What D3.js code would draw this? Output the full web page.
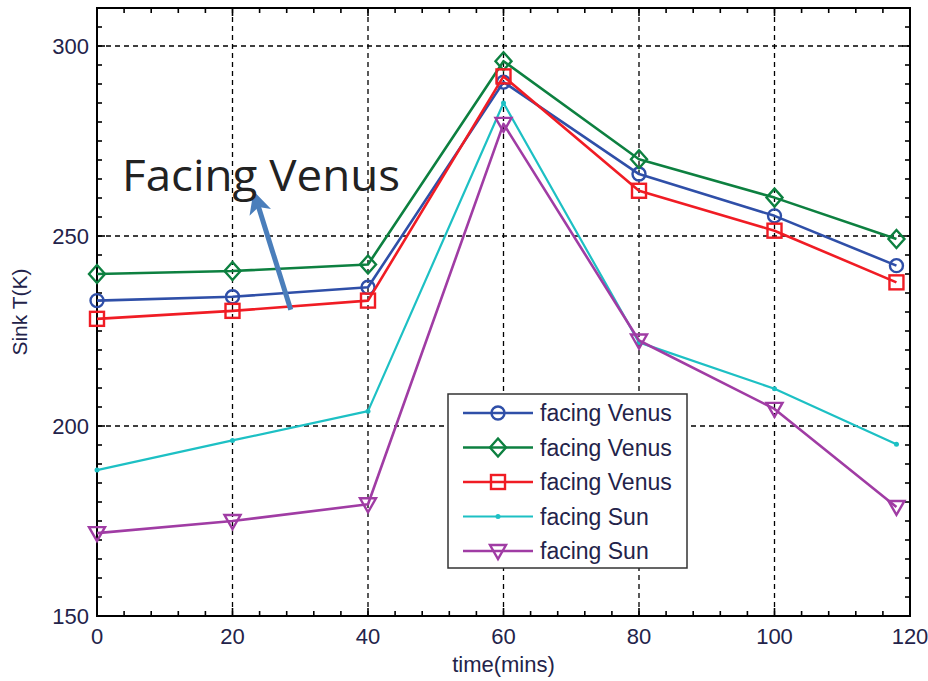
<!DOCTYPE html>
<html lang="en">
<head>
<meta charset="UTF-8">
<title>Sink T</title>
<style>
    body { margin: 0; background: #fff; }
    .grid line { stroke: #000; stroke-width: 1.3px; stroke-dasharray: 5 4; }
    .tick-label { font-family: "Liberation Sans", Arial, sans-serif; font-size: 21px; fill: #23234a; }
    .legend text { font-family: "Liberation Sans", Arial, sans-serif; font-size: 23px; fill: #23234a; }
</style>
</head>
<body>
<script src="https://d3js.org/d3.v7.min.js"></script>
<script>
// data
var times = [0, 20, 40, 60, 80, 100, 118];
var blueVenus  = [233, 234, 236.5, 290.5, 266.3, 255.3, 242.2];
var greenVenus = [240, 240.8, 242.5, 296, 270.2, 260.1, 249.2];
var redVenus   = [228.2, 230.3, 233, 292, 261.9, 251.4, 237.8];
var cyanSun    = [188.4, 196.2, 203.9, 285, 222, 209.8, 195.2];
var purpleSun  = [171.8, 175, 179.4, 279.5, 222.5, 204.5, 178.7];
var seriesNames = ["facing Venus", "facing Venus", "facing Venus", "facing Sun", "facing Sun"];
var xTicks = [0, 20, 40, 60, 80, 100, 120];
var yTicks = [150, 200, 250, 300];

var series = [
    { name: seriesNames[0], values: blueVenus,  color: "#2f4fa8", marker: "circle",   width: 2.6 },
    { name: seriesNames[1], values: greenVenus, color: "#0d8040", marker: "diamond",  width: 2.6 },
    { name: seriesNames[2], values: redVenus,   color: "#f01c24", marker: "square",   width: 2.6 },
    { name: seriesNames[3], values: cyanSun,    color: "#1dc0c4", marker: "dot",      width: 2.2 },
    { name: seriesNames[4], values: purpleSun,  color: "#a03ca4", marker: "triangle", width: 2.6 }
];

var W = 928, H = 681;
var x = d3.scaleLinear().domain([0, 120]).range([97, 910]);
var y = d3.scaleLinear().domain([150, 310]).range([616, 8]);

var svg = d3.select("body").append("svg")
    .attr("width", W).attr("height", H);
svg.append("rect").attr("width", W).attr("height", H).attr("fill", "#fff");

// gridlines
var grid = svg.append("g").attr("class", "grid");
grid.selectAll(".gx").data(xTicks.slice(1, -1)).enter().append("line")
    .attr("x1", d => x(d)).attr("x2", d => x(d))
    .attr("y1", y(310)).attr("y2", y(150));
grid.selectAll(".gy").data(yTicks.slice(1)).enter().append("line")
    .attr("x1", x(0)).attr("x2", x(120))
    .attr("y1", d => y(d)).attr("y2", d => y(d));

// inward ticks on all sides
var minorX = d3.range(0, 121, 4), minorY = d3.range(150, 311, 5);
var ticks = svg.append("g").attr("stroke", "#000").attr("stroke-width", 1.6);
minorX.forEach(function (v) {
    var len = v % 20 === 0 ? 8 : 5;
    ticks.append("line").attr("x1", x(v)).attr("x2", x(v)).attr("y1", y(150)).attr("y2", y(150) - len);
    ticks.append("line").attr("x1", x(v)).attr("x2", x(v)).attr("y1", y(310)).attr("y2", y(310) + len);
});
minorY.forEach(function (v) {
    var len = v % 50 === 0 ? 8 : 5;
    ticks.append("line").attr("x1", x(0)).attr("x2", x(0) + len).attr("y1", y(v)).attr("y2", y(v));
    ticks.append("line").attr("x1", x(120)).attr("x2", x(120) - len).attr("y1", y(v)).attr("y2", y(v));
});

// frame
svg.append("rect")
    .attr("x", x(0)).attr("y", y(310))
    .attr("width", x(120) - x(0)).attr("height", y(150) - y(310))
    .attr("fill", "none").attr("stroke", "#000").attr("stroke-width", 2);

// tick labels
svg.selectAll(".xl").data(xTicks).enter().append("text")
    .attr("class", "tick-label").style("font-size", "22px")
    .attr("x", d => x(d)).attr("y", 644)
    .attr("text-anchor", "middle").text(d => d);
svg.selectAll(".yl").data(yTicks).enter().append("text")
    .attr("class", "tick-label").style("font-size", "22px")
    .attr("x", 89).attr("y", d => y(d) + 8)
    .attr("text-anchor", "end").text(d => d);

// axis titles
svg.append("text").attr("class", "tick-label").style("font-size", "22px")
    .attr("x", x(60)).attr("y", 672).attr("text-anchor", "middle")
    .text("time(mins)");
svg.append("text").attr("class", "tick-label")
    .attr("transform", "translate(27," + y(230) + ") rotate(-90)")
    .attr("text-anchor", "middle").text("Sink T(K)");

function drawMarker(g, type, color) {
    var m;
    if (type === "circle") {
        m = g.append("circle").attr("r", 6.5);
    } else if (type === "diamond") {
        m = g.append("path").attr("d", "M0,-9L8,0L0,9L-8,0Z");
    } else if (type === "square") {
        m = g.append("rect").attr("x", -7).attr("y", -7).attr("width", 14).attr("height", 14);
    } else if (type === "triangle") {
        m = g.append("path").attr("d", "M-8,-6L8,-6L0,8Z");
    } else {
        m = g.append("circle").attr("r", 2.5).attr("fill", color);
        return;
    }
    m.attr("fill", "none").attr("stroke", color).attr("stroke-width", 2.4);
}

var line = d3.line().x((d, i) => x(times[i])).y(d => y(d));

series.forEach(function (s) {
    svg.append("path").datum(s.values)
        .attr("d", line)
        .attr("fill", "none").attr("stroke", s.color)
        .attr("stroke-width", s.width).attr("stroke-linejoin", "round");
    s.values.forEach(function (v, i) {
        var g = svg.append("g").attr("transform", "translate(" + x(times[i]) + "," + y(v) + ")");
        drawMarker(g, s.marker, s.color);
    });
});

// legend
var legend = svg.append("g").attr("class", "legend");
legend.append("rect")
    .attr("x", 448).attr("y", 394).attr("width", 239).attr("height", 174)
    .attr("fill", "#fff").attr("stroke", "#333").attr("stroke-width", 1.5);
series.forEach(function (s, i) {
    var ly = 413 + i * 34.5;
    legend.append("line").attr("x1", 463).attr("x2", 533).attr("y1", ly).attr("y2", ly)
        .attr("stroke", s.color).attr("stroke-width", s.width);
    drawMarker(legend.append("g").attr("transform", "translate(498," + ly + ")"), s.marker, s.color);
    legend.append("text").attr("x", 540).attr("y", ly + 8).text(s.name);
});

// annotation with arrow (positions in data units)
var note = { text: "Facing Venus", tx: 3.7, ty: 261.8, fromX: 28.6, fromY: 230.6, toX: 23.6, toY: 260.6 };
svg.append("defs").append("marker")
    .attr("id", "arrowhead").attr("viewBox", "0 0 10 10")
    .attr("refX", 5).attr("refY", 5)
    .attr("markerWidth", 4.5).attr("markerHeight", 4.5)
    .attr("orient", "auto")
    .append("path").attr("d", "M0,0L10,5L0,10L2.5,5Z").attr("fill", "#4a7ebb");
svg.append("line")
    .attr("x1", x(note.fromX)).attr("y1", y(note.fromY))
    .attr("x2", x(note.toX)).attr("y2", y(note.toY) + 6)
    .attr("stroke", "#4a7ebb").attr("stroke-width", 5)
    .attr("marker-end", "url(#arrowhead)");
svg.append("text")
    .attr("x", x(note.tx)).attr("y", y(note.ty))
    .attr("font-family", "'Open Sans', 'Noto Sans', sans-serif")
    .attr("font-size", 44).attr("fill", "#222")
    .attr("textLength", 278).attr("lengthAdjust", "spacingAndGlyphs")
    .text(note.text);
</script>
</body>
</html>
